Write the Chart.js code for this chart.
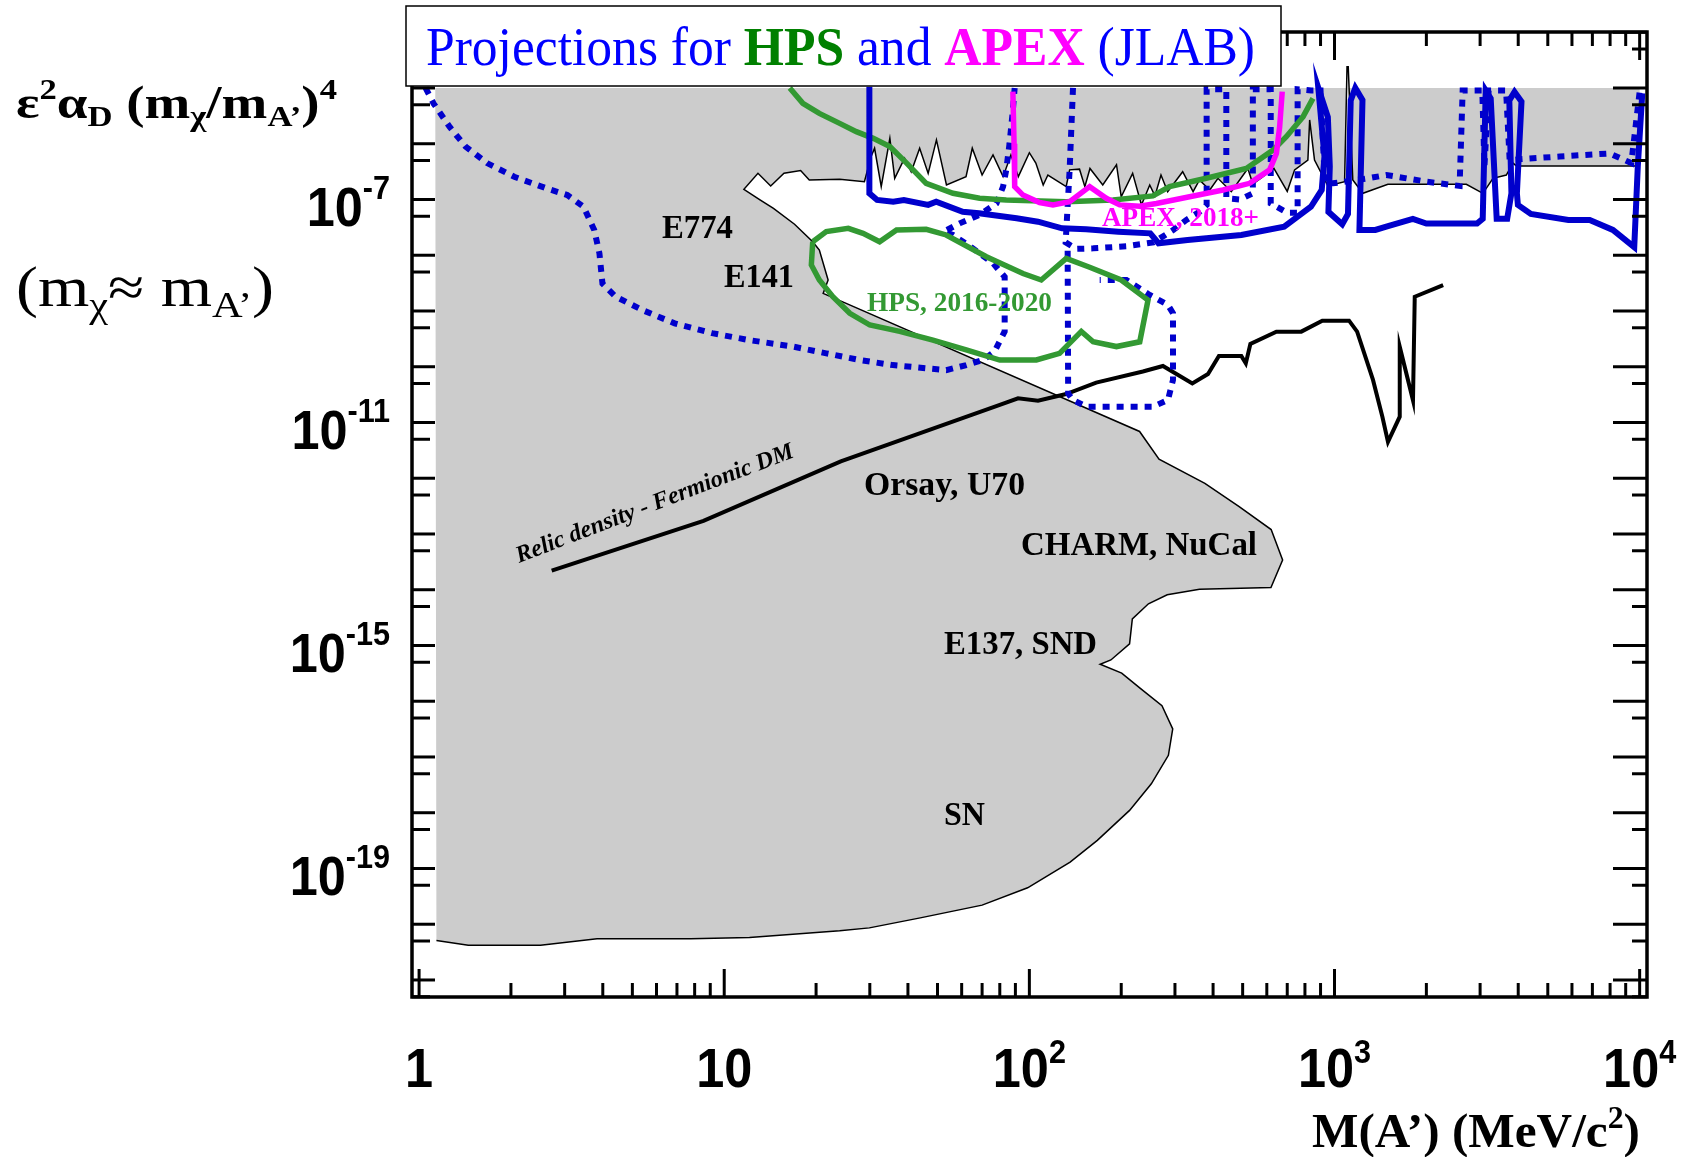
<!DOCTYPE html>
<html lang="en">
<head>
<meta charset="UTF-8">
<title>Projections for HPS and APEX (JLAB)</title>
<script src="https://cdn.jsdelivr.net/npm/chart.js"></script>
<style>
  html, body { margin: 0; padding: 0; background: #fff; }
  #wrap { width: 1682px; height: 1157px; }
</style>
</head>
<body>
<div id="wrap"><canvas id="chart" width="1682" height="1157"></canvas></div>
<script>
// M(A') in MeV/c^2 against eps^2 alpha_D (m_chi/m_A')^4

// edge of the excluded (grey) region: collider limits from the right, then the beam-dump / SN contour
const edgeX = [10000, 3945, 3846, 3656, 3306, 3064, 2704, 1496, 1239, 1148, 1109, 1099, 1079, 951, 860, 829, 818, 740, 700, 633, 583, 540, 520, 459, 415, 390, 361, 344, 318, 284, 270, 258, 248, 233, 218, 200, 193, 174, 158, 152, 146, 135.5, 132, 115, 111, 105, 100, 92, 87, 82, 76, 70, 65, 62, 53.5, 49.6, 46.6, 43.7, 41, 39, 36.2, 34.9, 32.7, 31.1, 30.3, 28.8, 23.9, 19, 17.8, 15.7, 14.2, 12.9, 11.6,
  13.1, 14.5, 17, 19.5, 20.5, 21.9, 21.1, 25.1, 229.7, 266, 376, 487, 620, 676, 619, 361, 283, 245.6, 217.5, 213, 185, 170.6, 200.7, 231, 272, 295, 285.5, 251, 213, 167, 136, 98.7, 70, 43.9, 29.9, 23.9, 12.1, 7.76, 3.83, 2.5, 1.45, 1.14];
const edgeY = [4.0e-7, 4.0e-7, 4.5e-7, 2.75e-7, 2.4e-7, 1.29e-7, 1.87e-7, 1.87e-7, 1.29e-7, 2.24e-7, 2.4e-5, 2.4e-5, 2.09e-7, 1.75e-7, 5.1e-7, 2.67e-6, 5.1e-7, 3.4e-7, 1.4e-7, 3.6e-7, 2.57e-7, 1.9e-7, 3.6e-7, 1.38e-7, 2.4e-7, 1.48e-7, 2.24e-7, 1.38e-7, 3.15e-7, 1.38e-7, 2.75e-7, 1.16e-7, 1.82e-7, 7.96e-8, 2.94e-7, 1.12e-7, 4.2e-7, 1.82e-7, 3.6e-7, 1.7e-7, 3.5e-7, 3.4e-7, 1.7e-7, 2.75e-7, 1.82e-7, 4.5e-7, 6.9e-7, 2.57e-7, 6.3e-7, 2.57e-7, 6.3e-7, 2.75e-7, 8.3e-7, 2.57e-7, 1.82e-7, 1.17e-6, 2.94e-7, 8.3e-7, 3.15e-7, 5.5e-7, 2.4e-7, 1.25e-6, 1.7e-7, 8.3e-7, 5.9e-7, 2.09e-7, 2.3e-7, 2.24e-7, 3.3e-7, 2.95e-7, 1.75e-7, 2.95e-7, 1.52e-7,
  9.8e-8, 6.9e-8, 3.6e-8, 1.75e-8, 1.24e-8, 3.6e-9, 2.07e-9, 1.37e-9, 6.9e-12, 2.2e-12, 8.1e-13, 3.1e-13, 1.2e-13, 3.4e-14, 1.1e-14, 1.02e-14, 8.1e-15, 5.6e-15, 3.0e-15, 1.07e-15, 5.5e-16, 4.6e-16, 3.2e-16, 1.7e-16, 8.3e-17, 3.2e-17, 1.07e-17, 3.3e-18, 1.1e-18, 3.2e-19, 1.3e-19, 4.5e-20, 2.2e-20, 1.3e-20, 8.6e-21, 7.6e-21, 5.8e-21, 5.5e-21, 5.5e-21, 4.2e-21, 4.2e-21, 5.1e-21];
const greyTop = 1e-5;
const greyLeft = 1.13;

// relic density target, fermionic DM
const relicX = [2.72, 8.55, 24.1, 80, 91.8, 106.7, 132, 165.6, 235.5, 274, 342, 385, 418, 495, 512, 530, 645, 778, 912, 1116, 1186, 1337, 1435, 1497, 1636, 1636, 1808, 1832, 2270];
const relicY = [2.2e-14, 1.72e-13, 2.0e-12, 2.06e-11, 2.71e-11, 2.46e-11, 3.24e-11, 5.2e-11, 8.2e-11, 1.03e-10, 5.0e-11, 7.4e-11, 1.56e-10, 1.56e-10, 1.15e-10, 2.56e-10, 4.26e-10, 4.26e-10, 6.7e-10, 6.7e-10, 4.26e-10, 5.8e-11, 1.27e-11, 4.5e-12, 1.27e-11, 2.29e-10, 2.5e-11, 1.8e-9, 2.9e-9];

// blue dotted projections
const dotLowX = [1.05, 1.115, 1.26, 1.42, 1.67, 2.05, 2.61, 3.06, 3.46, 3.75, 3.9, 3.99, 4.41, 5.39, 6.88, 9.12, 12.1, 16.8, 21.6, 27.8, 35.7, 45.9, 53.4, 62.1, 70.4, 76.9, 83, 83, 76, 65.3, 56.2, 52.4, 59.1, 68.7, 78, 82, 84, 86.1, 88.3, 89.5];
const dotLowY = [1e-5, 5.3e-6, 2.0e-6, 8.9e-7, 4.5e-7, 2.56e-7, 1.59e-7, 1.2e-7, 7.4e-8, 2.84e-8, 1.08e-8, 3.1e-9, 1.8e-9, 1.04e-9, 6.0e-10, 4.0e-10, 3.0e-10, 2.3e-10, 1.74e-10, 1.32e-10, 1.07e-10, 9.4e-11, 8.7e-11, 1.07e-10, 1.32e-10, 1.87e-10, 4.3e-10, 4.1e-9, 7.2e-9, 1.33e-8, 2.31e-8, 2.65e-8, 3.73e-8, 5.3e-8, 8.5e-8, 1.7e-7, 3.4e-7, 1.0e-6, 4.0e-6, 1e-5];
const dotHighX = [139, 135.5, 131.5, 142.6, 162, 208, 255, 296, 327, 361, 381, 381, 442, 442, 490, 540, 540, 618, 618, 700, 757, 757, 840, 900, 930, 989, 1288, 1479, 2000, 2570, 2630, 3050, 3100, 3200, 3650, 3750, 4090, 5470, 7970, 9390, 10000];
const dotHighY = [1e-5, 3.4e-7, 1.7e-8, 1.3e-8, 1.33e-8, 1.45e-8, 1.7e-8, 2.84e-8, 4.3e-8, 6.0e-8, 8e-8, 9.5e-6, 9.5e-6, 1.05e-7, 1.0e-7, 1.29e-7, 9.5e-6, 9.5e-6, 8.5e-8, 5.8e-8, 5.8e-8, 9.5e-6, 9e-6, 9e-6, 2e-7, 1.95e-7, 2.4e-7, 2.75e-7, 2.09e-7, 1.75e-7, 9e-6, 9e-6, 4e-7, 9e-6, 9e-6, 5e-7, 5.3e-7, 5.9e-7, 6.7e-7, 4.5e-7, 8.6e-6];
const dotBoxX = [133.5, 134, 139, 153.8, 254, 284.6, 295.6, 295.6, 284.6, 247.8, 208, 170];
const dotBoxY = [1.2e-8, 3.3e-11, 2.53e-11, 1.92e-11, 1.92e-11, 2.53e-11, 5.8e-11, 9.1e-10, 1.28e-9, 1.94e-9, 3.6e-9, 3.6e-9];

// HPS, 2016-2020 (green)
const hpsLoopX = [19.5, 21.6, 25.5, 28.5, 32.3, 36.7, 45.9, 53.4, 72.3, 95.3, 109.4, 132.1, 157.6, 200, 244.8, 230, 192.9, 161.8, 148, 125.6, 105.4, 80, 62.1, 48.3, 37.6, 30, 25.8, 22.7, 20.5, 19.3, 19.5];
const hpsLoopY = [1.75e-8, 2.65e-8, 3.04e-8, 2.47e-8, 1.75e-8, 2.84e-8, 2.92e-8, 2.31e-8, 9.4e-9, 4.7e-9, 3.6e-9, 8.8e-9, 6.1e-9, 3.6e-9, 1.57e-9, 2.8e-10, 2.3e-10, 2.8e-10, 4.3e-10, 1.74e-10, 1.32e-10, 1.32e-10, 2.0e-10, 3.0e-10, 4.3e-10, 5.6e-10, 9.1e-10, 1.8e-9, 3.6e-9, 6.7e-9, 1.75e-8];
const hpsTopX = [16.4, 18.1, 20.5, 23.9, 27.1, 30.8, 34.9, 39.6, 45.9, 56.2, 68.7, 84, 132, 188, 254, 288, 380, 514, 629, 695, 789, 850];
const hpsTopY = [1e-5, 5.3e-6, 3.5e-6, 2.32e-6, 1.65e-6, 1.25e-6, 8.9e-7, 4.5e-7, 1.95e-7, 1.29e-7, 1.05e-7, 9.8e-8, 9.1e-8, 9.8e-8, 1.16e-7, 1.7e-7, 2.4e-7, 3.6e-7, 7.7e-7, 1.34e-6, 3.06e-6, 6.5e-6];

// blue solid projection
const solidX = [29.9, 29.9, 31.7, 35.8, 38.8, 46.6, 49.5, 60.5, 68.4, 90.8, 106.7, 128, 153.5, 195.5, 249, 265, 330, 495, 684, 837, 908, 927, 885, 951, 965, 955, 1060, 1107, 1130, 1170, 1235, 1207, 1361, 1478, 1806, 2000, 2931, 3060, 3130, 3250, 3400, 3680, 3800, 3740, 3890, 4100, 3960, 3990, 4400, 5840, 6860, 8170, 9600, 9860, 10200];
const solidY = [1.05e-5, 1.29e-7, 9.8e-8, 9.1e-8, 9.8e-8, 8.0e-8, 9.1e-8, 6.0e-8, 5.65e-8, 4.6e-8, 4.0e-8, 3.04e-8, 2.92e-8, 2.65e-8, 2.47e-8, 1.64e-8, 1.88e-8, 2.31e-8, 3.26e-8, 7.4e-8, 1.48e-7, 5.9e-7, 1.0e-5, 3e-6, 3.9e-7, 6e-8, 3.6e-8, 5.5e-8, 6e-6, 1.0e-5, 6.1e-6, 2.84e-8, 2.84e-8, 3.26e-8, 4.5e-8, 3.7e-8, 3.7e-8, 4.5e-8, 9e-6, 6.5e-6, 4.5e-8, 4.5e-8, 1.3e-7, 6e-6, 8.5e-6, 5.7e-6, 1.3e-7, 8e-8, 5.5e-8, 4.3e-8, 4.3e-8, 2.84e-8, 1.4e-8, 3.9e-7, 8e-6];

// APEX, 2018+ (magenta)
const apexX = [88.3, 89.1, 89.5, 95.3, 108, 119.5, 135.5, 157.6, 178.7, 197.7, 229.7, 260.6, 335, 431, 527, 613, 645, 661, 674];
const apexY = [8.6e-6, 1.0e-6, 1.7e-7, 1.2e-7, 8.8e-8, 8.0e-8, 9.1e-8, 1.7e-7, 1.05e-7, 8.0e-8, 7.6e-8, 8.5e-8, 1.12e-7, 1.48e-7, 1.95e-7, 3.4e-7, 6.7e-7, 2.0e-6, 8.6e-6];

// axis labels
const xLabelExps = [0, 1, 2, 3, 4];
const yLabelExps = [-7, -11, -15, -19];

const xy = (xs, ys) => xs.map((v, i) => ({ x: v, y: ys[i] }));
const greyX = [greyLeft, 10000].concat(edgeX);
const greyY = [greyTop, greyTop].concat(edgeY.map(v => Math.min(v, greyTop)));

const BLUE = '#0000cc', GREEN = '#339933', MAGENTA = '#ff00ff';
const SERIF = '"Liberation Serif", "Times New Roman", serif';
const SANS = '"Liberation Sans", Arial, sans-serif';

function line(ctx, x1, y1, x2, y2) {
  ctx.beginPath(); ctx.moveTo(x1, y1); ctx.lineTo(x2, y2); ctx.stroke();
}

// draws a run of text pieces (for super/subscripts); fitW squeezes it to a given width,
// squeeze narrows it by a fixed factor instead
function drawRich(ctx, runs, x, y, align, fitW, squeeze) {
  let w = 0;
  runs.forEach(r => { ctx.font = r.font; w += ctx.measureText(r.t).width; });
  const sx = fitW ? fitW / w : (squeeze || 1);
  const x0 = align === 'right' ? x - w * sx : align === 'center' ? x - w * sx / 2 : x;
  ctx.save();
  ctx.translate(x0, y);
  ctx.scale(sx, 1);
  ctx.textAlign = 'left';
  ctx.textBaseline = 'alphabetic';
  let cx = 0;
  runs.forEach(r => {
    ctx.font = r.font;
    ctx.fillStyle = r.color || '#000';
    ctx.fillText(r.t, cx, r.dy || 0);
    cx += ctx.measureText(r.t).width;
  });
  ctx.restore();
}

const rootFrame = {
  id: 'rootFrame',
  afterDatasetsDraw(chart) {
    const { ctx, chartArea: a, scales: { x, y } } = chart;
    ctx.save();
    ctx.strokeStyle = '#000';
    ctx.lineWidth = 3;
    // x ticks, pointing inwards top and bottom
    for (let e = 0; e <= 4; e++) {
      for (let m = 1; m <= 9; m++) {
        const v = m * Math.pow(10, e);
        if (v < x.min || v > x.max) continue;
        const px = x.getPixelForValue(v);
        const len = m === 1 ? 28 : 14;
        line(ctx, px, a.bottom, px, a.bottom - len);
        line(ctx, px, a.top, px, a.top + len);
      }
    }
    // y ticks at each decade and at 5 x decade
    for (let e = -22; e <= -4; e++) {
      [1, 5].forEach(m => {
        const v = m * Math.pow(10, e);
        if (v <= y.min || v >= y.max) return;
        const py = y.getPixelForValue(v);
        line(ctx, a.left, py, a.left + (m === 1 ? 23 : 18), py);
        line(ctx, a.right, py, a.right - (m === 1 ? 34 : 15), py);
      });
    }
    ctx.lineWidth = 3.5;
    ctx.strokeRect(a.left, a.top, a.right - a.left, a.bottom - a.top);
    ctx.restore();
  },
  afterDraw(chart) {
    const { ctx, scales: { x, y } } = chart;
    ctx.save();
    // tick labels
    const big = 'bold 56px ' + SANS, sup = 'bold 34px ' + SANS;
    yLabelExps.forEach(e => {
      const py = y.getPixelForValue(Math.pow(10, e));
      drawRich(ctx, [{ t: '10', font: big }, { t: String(e), font: sup, dy: -27 }], 390, py + 27, 'right', 0, 0.9);
    });
    xLabelExps.forEach(e => {
      const px = x.getPixelForValue(Math.pow(10, e));
      const runs = e === 0 ? [{ t: '1', font: big }]
        : e === 1 ? [{ t: '10', font: big }]
        : [{ t: '10', font: big }, { t: String(e), font: sup, dy: -24 }];
      drawRich(ctx, runs, px, 1087, 'center', 0, 0.9);
    });

    // axis titles
    const tb = 'bold 46px ' + SERIF, ts = 'bold 29px ' + SERIF;
    drawRich(ctx, [
      { t: 'ε', font: tb }, { t: '2', font: ts, dy: -19 }, { t: 'α', font: tb }, { t: 'D', font: ts, dy: 8 },
      { t: ' (m', font: tb }, { t: 'χ', font: ts, dy: 8 }, { t: '/m', font: tb }, { t: 'A’', font: ts, dy: 8 },
      { t: ')', font: tb }, { t: '4', font: ts, dy: -19 }
    ], 16, 118, 'left', 321);
    const rb = '56px ' + SERIF, rs = '36px ' + SERIF;
    drawRich(ctx, [
      { t: '(m', font: rb }, { t: 'χ', font: rs, dy: 11 }, { t: '≈ m', font: rb }, { t: 'A’', font: rs, dy: 11 }, { t: ')', font: rb }
    ], 16, 306, 'left', 258);
    const xb = 'bold 48px ' + SERIF, xs = 'bold 31px ' + SERIF;
    drawRich(ctx, [{ t: 'M(A’) (MeV/c', font: xb }, { t: '2', font: xs, dy: -19 }, { t: ')', font: xb }], 1640, 1147, 'right', 328);

    // region labels
    const lab = 'bold 34px ' + SERIF;
    drawRich(ctx, [{ t: 'E774', font: lab }], 662, 238, 'left', 71);
    drawRich(ctx, [{ t: 'E141', font: lab }], 724, 287, 'left', 70);
    drawRich(ctx, [{ t: 'Orsay, U70', font: lab }], 864, 495, 'left', 161);
    drawRich(ctx, [{ t: 'CHARM, NuCal', font: lab }], 1021, 555, 'left', 236);
    drawRich(ctx, [{ t: 'E137, SND', font: lab }], 944, 654, 'left', 153);
    drawRich(ctx, [{ t: 'SN', font: lab }], 944, 825, 'left', 41);
    drawRich(ctx, [{ t: 'HPS, 2016-2020', font: 'bold 27px ' + SERIF, color: GREEN }], 867, 311, 'left', 185);
    drawRich(ctx, [{ t: 'APEX, 2018+', font: 'bold 27px ' + SERIF, color: MAGENTA }], 1102, 226, 'left', 157);

    // relic density label along its line
    ctx.save();
    ctx.translate(519, 563);
    ctx.rotate(Math.atan2(-107, 278));
    drawRich(ctx, [{ t: 'Relic density - Fermionic DM', font: 'italic bold 24px ' + SERIF }], 0, 0, 'left', 296);
    ctx.restore();

    // title box
    ctx.fillStyle = '#fff';
    ctx.fillRect(406, 6, 875, 80);
    ctx.strokeStyle = '#000';
    ctx.lineWidth = 1.5;
    ctx.strokeRect(406, 6, 875, 80);
    const hr = '54px ' + SERIF, hb = 'bold 54px ' + SERIF;
    drawRich(ctx, [
      { t: 'Projections for ', font: hr, color: '#0000ff' },
      { t: 'HPS', font: hb, color: '#008000' },
      { t: ' and ', font: hr, color: '#0000ff' },
      { t: 'APEX', font: hb, color: MAGENTA },
      { t: ' (JLAB)', font: hr, color: '#0000ff' }
    ], 426, 65, 'left', 829);
    ctx.restore();
  }
};

const curve = (xs, ys, color, width, dash) => ({
  data: xy(xs, ys),
  showLine: true,
  borderColor: color,
  borderWidth: width,
  borderDash: dash || [],
  pointRadius: 0,
  fill: false
});

new Chart(document.getElementById('chart'), {
  type: 'scatter',
  data: {
    datasets: [
      curve(apexX, apexY, MAGENTA, 5.5),
      curve(solidX, solidY, BLUE, 6),
      curve(hpsTopX, hpsTopY, GREEN, 5.5),
      curve(hpsLoopX, hpsLoopY, GREEN, 5.5),
      curve(dotBoxX, dotBoxY, BLUE, 6, [7, 7]),
      curve(dotHighX, dotHighY, BLUE, 6, [7, 7]),
      curve(dotLowX, dotLowY, BLUE, 6, [7, 7]),
      curve(relicX, relicY, '#000', 4),
      curve(edgeX, edgeY, '#000', 1.5),
      {
        data: xy(greyX, greyY),
        showLine: true,
        borderWidth: 0,
        borderColor: 'rgba(0,0,0,0)',
        backgroundColor: '#cccccc',
        pointRadius: 0,
        fill: 'shape'
      }
    ]
  },
  options: {
    responsive: false,
    animation: false,
    layout: { padding: { left: 412, right: 35, top: 32, bottom: 160 } },
    plugins: { legend: { display: false }, tooltip: { enabled: false } },
    elements: { line: { tension: 0 } },
    scales: {
      x: { type: 'logarithmic', min: 0.948, max: 10570, display: false, bounds: 'data' },
      y: { type: 'logarithmic', min: 4.95e-22, max: 1.01e-4, display: false, bounds: 'data' }
    }
  },
  plugins: [rootFrame]
});
</script>
</body>
</html>
